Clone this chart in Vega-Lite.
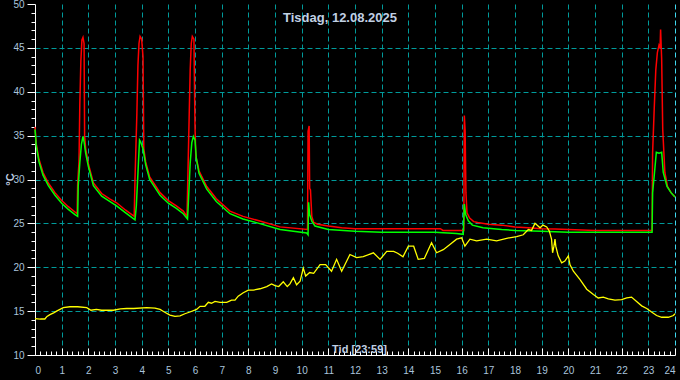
{
  "$schema": "https://vega.github.io/schema/vega-lite/v6.json",
  "width": 640,
  "height": 351,
  "autosize": {"type": "none"},
  "padding": {"left": 35, "top": 4, "right": 5, "bottom": 25},
  "background": "#000000",
  "title": {
    "text": "Tisdag, 12.08.2025",
    "frame": "group",
    "anchor": "middle",
    "dx": -15,
    "dy": 19,
    "offset": -17,
    "baseline": "alphabetic",
    "color": "#c0d0e4",
    "font": "Liberation Sans",
    "fontSize": 13,
    "fontWeight": "bold"
  },
  "config": {
    "view": {"stroke": null},
    "axis": {
      "labelFont": "Liberation Sans",
      "labelFontSize": 10,
      "labelColor": "#aac4dc",
      "titleFont": "Liberation Sans",
      "titleColor": "#c0d0e4",
      "titleFontWeight": "bold",
      "titleFontSize": 11,
      "domainColor": "#ffffff",
      "domainWidth": 1,
      "tickColor": "#ffffff",
      "tickWidth": 1,
      "gridDash": [5, 3],
      "gridWidth": 1,
      "labelOverlap": false
    }
  },
  "datasets": {
    "temps": [
      {"serie": "T1", "t": 0.0, "v": 36.0}, {"serie": "T1", "t": 0.05, "v": 34.0}, {"serie": "T1", "t": 0.15, "v": 32.3}, {"serie": "T1", "t": 0.3, "v": 30.8}, {"serie": "T1", "t": 0.5, "v": 29.6}, {"serie": "T1", "t": 0.75, "v": 28.5}, {"serie": "T1", "t": 1.0, "v": 27.6}, {"serie": "T1", "t": 1.25, "v": 26.9}, {"serie": "T1", "t": 1.5, "v": 26.3}, {"serie": "T1", "t": 1.58, "v": 26.1},
      {"serie": "T1", "t": 1.6, "v": 29.5}, {"serie": "T1", "t": 1.65, "v": 32.0}, {"serie": "T1", "t": 1.68, "v": 38.5}, {"serie": "T1", "t": 1.72, "v": 43.5}, {"serie": "T1", "t": 1.76, "v": 45.9}, {"serie": "T1", "t": 1.8, "v": 46.2}, {"serie": "T1", "t": 1.84, "v": 45.5}, {"serie": "T1", "t": 1.86, "v": 35.0}, {"serie": "T1", "t": 1.9, "v": 33.5}, {"serie": "T1", "t": 2.0, "v": 31.8},
      {"serie": "T1", "t": 2.19, "v": 29.6}, {"serie": "T1", "t": 2.5, "v": 28.4}, {"serie": "T1", "t": 2.8, "v": 27.8}, {"serie": "T1", "t": 3.06, "v": 27.35}, {"serie": "T1", "t": 3.4, "v": 26.5}, {"serie": "T1", "t": 3.72, "v": 25.8},
      {"serie": "T1", "t": 3.75, "v": 30.0}, {"serie": "T1", "t": 3.82, "v": 37.5}, {"serie": "T1", "t": 3.86, "v": 43.0}, {"serie": "T1", "t": 3.9, "v": 45.5}, {"serie": "T1", "t": 3.94, "v": 46.3}, {"serie": "T1", "t": 4.0, "v": 46.0}, {"serie": "T1", "t": 4.05, "v": 44.0}, {"serie": "T1", "t": 4.08, "v": 33.5}, {"serie": "T1", "t": 4.15, "v": 32.0}, {"serie": "T1", "t": 4.3, "v": 30.3},
      {"serie": "T1", "t": 4.69, "v": 28.5}, {"serie": "T1", "t": 5.0, "v": 27.6}, {"serie": "T1", "t": 5.3, "v": 27.0}, {"serie": "T1", "t": 5.56, "v": 26.4}, {"serie": "T1", "t": 5.7, "v": 25.8},
      {"serie": "T1", "t": 5.73, "v": 30.0}, {"serie": "T1", "t": 5.78, "v": 37.0}, {"serie": "T1", "t": 5.82, "v": 42.5}, {"serie": "T1", "t": 5.86, "v": 45.5}, {"serie": "T1", "t": 5.9, "v": 46.3}, {"serie": "T1", "t": 5.96, "v": 46.0}, {"serie": "T1", "t": 6.0, "v": 36.0}, {"serie": "T1", "t": 6.03, "v": 32.7}, {"serie": "T1", "t": 6.15, "v": 31.0},
      {"serie": "T1", "t": 6.44, "v": 29.2}, {"serie": "T1", "t": 6.8, "v": 27.8}, {"serie": "T1", "t": 7.31, "v": 26.4}, {"serie": "T1", "t": 7.8, "v": 25.8}, {"serie": "T1", "t": 8.4, "v": 25.3}, {"serie": "T1", "t": 9.19, "v": 24.6}, {"serie": "T1", "t": 10.22, "v": 24.3},
      {"serie": "T1", "t": 10.24, "v": 35.5}, {"serie": "T1", "t": 10.28, "v": 36.1}, {"serie": "T1", "t": 10.3, "v": 29.0}, {"serie": "T1", "t": 10.33, "v": 28.8}, {"serie": "T1", "t": 10.38, "v": 25.8}, {"serie": "T1", "t": 10.45, "v": 25.1}, {"serie": "T1", "t": 10.6, "v": 24.9}, {"serie": "T1", "t": 11.0, "v": 24.7}, {"serie": "T1", "t": 11.5, "v": 24.5}, {"serie": "T1", "t": 12.0, "v": 24.4},
      {"serie": "T1", "t": 15.2, "v": 24.4}, {"serie": "T1", "t": 15.3, "v": 24.2}, {"serie": "T1", "t": 16.08, "v": 24.2}, {"serie": "T1", "t": 16.1, "v": 37.3}, {"serie": "T1", "t": 16.13, "v": 35.5}, {"serie": "T1", "t": 16.16, "v": 28.5}, {"serie": "T1", "t": 16.2, "v": 26.2}, {"serie": "T1", "t": 16.3, "v": 25.6}, {"serie": "T1", "t": 16.45, "v": 25.2}, {"serie": "T1", "t": 16.6, "v": 25.1},
      {"serie": "T1", "t": 17.0, "v": 24.9}, {"serie": "T1", "t": 17.5, "v": 24.8}, {"serie": "T1", "t": 18.0, "v": 24.6}, {"serie": "T1", "t": 18.5, "v": 24.5}, {"serie": "T1", "t": 19.0, "v": 24.4}, {"serie": "T1", "t": 19.5, "v": 24.35}, {"serie": "T1", "t": 20.0, "v": 24.3}, {"serie": "T1", "t": 20.5, "v": 24.25}, {"serie": "T1", "t": 21.0, "v": 24.2}, {"serie": "T1", "t": 23.14, "v": 24.2},
      {"serie": "T1", "t": 23.16, "v": 33.0}, {"serie": "T1", "t": 23.22, "v": 38.0}, {"serie": "T1", "t": 23.28, "v": 42.5}, {"serie": "T1", "t": 23.34, "v": 44.5}, {"serie": "T1", "t": 23.4, "v": 45.3}, {"serie": "T1", "t": 23.44, "v": 45.0}, {"serie": "T1", "t": 23.46, "v": 47.1}, {"serie": "T1", "t": 23.5, "v": 43.7}, {"serie": "T1", "t": 23.54, "v": 35.7}, {"serie": "T1", "t": 23.62, "v": 30.8}, {"serie": "T1", "t": 23.72, "v": 29.2}, {"serie": "T1", "t": 23.85, "v": 28.5}, {"serie": "T1", "t": 24.0, "v": 28.0},

      {"serie": "T2", "t": 0.0, "v": 35.7}, {"serie": "T2", "t": 0.05, "v": 33.8}, {"serie": "T2", "t": 0.15, "v": 32.0}, {"serie": "T2", "t": 0.3, "v": 30.5}, {"serie": "T2", "t": 0.5, "v": 29.3}, {"serie": "T2", "t": 0.75, "v": 28.2}, {"serie": "T2", "t": 1.0, "v": 27.3}, {"serie": "T2", "t": 1.25, "v": 26.6}, {"serie": "T2", "t": 1.5, "v": 26.0}, {"serie": "T2", "t": 1.6, "v": 25.8},
      {"serie": "T2", "t": 1.62, "v": 29.2}, {"serie": "T2", "t": 1.68, "v": 31.9}, {"serie": "T2", "t": 1.74, "v": 34.0}, {"serie": "T2", "t": 1.8, "v": 34.9}, {"serie": "T2", "t": 1.84, "v": 34.3}, {"serie": "T2", "t": 1.9, "v": 33.0}, {"serie": "T2", "t": 2.0, "v": 31.5}, {"serie": "T2", "t": 2.19, "v": 29.3}, {"serie": "T2", "t": 2.5, "v": 28.1}, {"serie": "T2", "t": 2.8, "v": 27.5},
      {"serie": "T2", "t": 3.06, "v": 27.0}, {"serie": "T2", "t": 3.4, "v": 26.2}, {"serie": "T2", "t": 3.75, "v": 25.4}, {"serie": "T2", "t": 3.8, "v": 27.0}, {"serie": "T2", "t": 3.86, "v": 30.7}, {"serie": "T2", "t": 3.92, "v": 34.5}, {"serie": "T2", "t": 3.96, "v": 34.3}, {"serie": "T2", "t": 4.05, "v": 33.5}, {"serie": "T2", "t": 4.15, "v": 31.7}, {"serie": "T2", "t": 4.3, "v": 30.0},
      {"serie": "T2", "t": 4.69, "v": 28.2}, {"serie": "T2", "t": 5.0, "v": 27.3}, {"serie": "T2", "t": 5.3, "v": 26.7}, {"serie": "T2", "t": 5.56, "v": 26.1}, {"serie": "T2", "t": 5.72, "v": 25.5}, {"serie": "T2", "t": 5.75, "v": 27.3}, {"serie": "T2", "t": 5.82, "v": 31.9}, {"serie": "T2", "t": 5.88, "v": 34.2}, {"serie": "T2", "t": 5.94, "v": 34.9}, {"serie": "T2", "t": 6.0, "v": 34.5},
      {"serie": "T2", "t": 6.05, "v": 32.4}, {"serie": "T2", "t": 6.15, "v": 30.7}, {"serie": "T2", "t": 6.44, "v": 28.9}, {"serie": "T2", "t": 6.8, "v": 27.5}, {"serie": "T2", "t": 7.31, "v": 26.1}, {"serie": "T2", "t": 7.8, "v": 25.5}, {"serie": "T2", "t": 8.4, "v": 25.0}, {"serie": "T2", "t": 9.19, "v": 24.3}, {"serie": "T2", "t": 10.19, "v": 23.9}, {"serie": "T2", "t": 10.24, "v": 23.7},
      {"serie": "T2", "t": 10.26, "v": 27.4}, {"serie": "T2", "t": 10.3, "v": 26.0}, {"serie": "T2", "t": 10.38, "v": 25.25}, {"serie": "T2", "t": 10.5, "v": 24.7}, {"serie": "T2", "t": 11.0, "v": 24.3}, {"serie": "T2", "t": 12.0, "v": 24.1}, {"serie": "T2", "t": 13.0, "v": 24.0}, {"serie": "T2", "t": 15.0, "v": 24.0}, {"serie": "T2", "t": 15.8, "v": 23.85}, {"serie": "T2", "t": 16.06, "v": 23.75},
      {"serie": "T2", "t": 16.1, "v": 27.2}, {"serie": "T2", "t": 16.15, "v": 26.0}, {"serie": "T2", "t": 16.25, "v": 25.3}, {"serie": "T2", "t": 16.4, "v": 24.8}, {"serie": "T2", "t": 16.8, "v": 24.5}, {"serie": "T2", "t": 17.5, "v": 24.3}, {"serie": "T2", "t": 18.0, "v": 24.2}, {"serie": "T2", "t": 19.0, "v": 24.1}, {"serie": "T2", "t": 20.0, "v": 24.0}, {"serie": "T2", "t": 23.14, "v": 24.0},
      {"serie": "T2", "t": 23.16, "v": 28.5}, {"serie": "T2", "t": 23.22, "v": 30.4}, {"serie": "T2", "t": 23.3, "v": 33.1}, {"serie": "T2", "t": 23.4, "v": 33.0}, {"serie": "T2", "t": 23.5, "v": 33.1}, {"serie": "T2", "t": 23.56, "v": 30.8}, {"serie": "T2", "t": 23.7, "v": 29.2}, {"serie": "T2", "t": 23.85, "v": 28.5}, {"serie": "T2", "t": 24.0, "v": 28.0},

      {"serie": "Ute", "t": 0.0, "v": 14.15}, {"serie": "Ute", "t": 0.2, "v": 14.1}, {"serie": "Ute", "t": 0.37, "v": 14.1}, {"serie": "Ute", "t": 0.45, "v": 14.4}, {"serie": "Ute", "t": 0.56, "v": 14.6}, {"serie": "Ute", "t": 0.7, "v": 14.8}, {"serie": "Ute", "t": 0.81, "v": 15.0}, {"serie": "Ute", "t": 1.06, "v": 15.4}, {"serie": "Ute", "t": 1.31, "v": 15.5}, {"serie": "Ute", "t": 1.6, "v": 15.5},
      {"serie": "Ute", "t": 1.94, "v": 15.4}, {"serie": "Ute", "t": 2.1, "v": 15.1}, {"serie": "Ute", "t": 2.3, "v": 15.2}, {"serie": "Ute", "t": 2.5, "v": 15.1}, {"serie": "Ute", "t": 2.94, "v": 15.1}, {"serie": "Ute", "t": 3.2, "v": 15.25}, {"serie": "Ute", "t": 3.44, "v": 15.3}, {"serie": "Ute", "t": 3.7, "v": 15.3}, {"serie": "Ute", "t": 4.19, "v": 15.4}, {"serie": "Ute", "t": 4.5, "v": 15.35},
      {"serie": "Ute", "t": 4.69, "v": 15.2}, {"serie": "Ute", "t": 4.85, "v": 14.9}, {"serie": "Ute", "t": 5.06, "v": 14.55}, {"serie": "Ute", "t": 5.25, "v": 14.4}, {"serie": "Ute", "t": 5.44, "v": 14.45}, {"serie": "Ute", "t": 5.62, "v": 14.7}, {"serie": "Ute", "t": 5.81, "v": 14.9}, {"serie": "Ute", "t": 6.06, "v": 15.2}, {"serie": "Ute", "t": 6.19, "v": 15.55}, {"serie": "Ute", "t": 6.37, "v": 15.55},
      {"serie": "Ute", "t": 6.5, "v": 16.0}, {"serie": "Ute", "t": 6.62, "v": 15.9}, {"serie": "Ute", "t": 6.75, "v": 16.1}, {"serie": "Ute", "t": 6.94, "v": 16.0}, {"serie": "Ute", "t": 7.19, "v": 16.0}, {"serie": "Ute", "t": 7.37, "v": 16.25}, {"serie": "Ute", "t": 7.5, "v": 16.25}, {"serie": "Ute", "t": 7.62, "v": 16.7}, {"serie": "Ute", "t": 7.81, "v": 17.1}, {"serie": "Ute", "t": 8.0, "v": 17.4},
      {"serie": "Ute", "t": 8.19, "v": 17.4}, {"serie": "Ute", "t": 8.44, "v": 17.55}, {"serie": "Ute", "t": 8.69, "v": 17.8}, {"serie": "Ute", "t": 8.87, "v": 18.1}, {"serie": "Ute", "t": 9.0, "v": 17.9}, {"serie": "Ute", "t": 9.14, "v": 17.8}, {"serie": "Ute", "t": 9.31, "v": 18.35}, {"serie": "Ute", "t": 9.46, "v": 17.8}, {"serie": "Ute", "t": 9.56, "v": 18.1}, {"serie": "Ute", "t": 9.69, "v": 18.8},
      {"serie": "Ute", "t": 9.81, "v": 18.0}, {"serie": "Ute", "t": 9.94, "v": 18.4}, {"serie": "Ute", "t": 10.06, "v": 19.9}, {"serie": "Ute", "t": 10.15, "v": 19.0}, {"serie": "Ute", "t": 10.3, "v": 19.4}, {"serie": "Ute", "t": 10.45, "v": 19.3}, {"serie": "Ute", "t": 10.69, "v": 20.3}, {"serie": "Ute", "t": 10.9, "v": 20.3}, {"serie": "Ute", "t": 11.12, "v": 19.55}, {"serie": "Ute", "t": 11.31, "v": 20.9},
      {"serie": "Ute", "t": 11.5, "v": 19.55}, {"serie": "Ute", "t": 11.81, "v": 21.45}, {"serie": "Ute", "t": 12.06, "v": 21.1}, {"serie": "Ute", "t": 12.31, "v": 21.2}, {"serie": "Ute", "t": 12.69, "v": 21.65}, {"serie": "Ute", "t": 12.94, "v": 20.9}, {"serie": "Ute", "t": 13.19, "v": 21.8}, {"serie": "Ute", "t": 13.45, "v": 21.8}, {"serie": "Ute", "t": 13.6, "v": 21.6}, {"serie": "Ute", "t": 13.8, "v": 21.2},
      {"serie": "Ute", "t": 14.0, "v": 22.4}, {"serie": "Ute", "t": 14.2, "v": 22.4}, {"serie": "Ute", "t": 14.37, "v": 20.9}, {"serie": "Ute", "t": 14.6, "v": 21.0}, {"serie": "Ute", "t": 14.87, "v": 22.8}, {"serie": "Ute", "t": 15.06, "v": 21.65}, {"serie": "Ute", "t": 15.31, "v": 22.0}, {"serie": "Ute", "t": 15.56, "v": 22.6}, {"serie": "Ute", "t": 15.81, "v": 23.2}, {"serie": "Ute", "t": 16.0, "v": 23.35},
      {"serie": "Ute", "t": 16.12, "v": 22.4}, {"serie": "Ute", "t": 16.31, "v": 23.2}, {"serie": "Ute", "t": 16.56, "v": 23.0}, {"serie": "Ute", "t": 16.94, "v": 23.2}, {"serie": "Ute", "t": 17.31, "v": 23.0}, {"serie": "Ute", "t": 17.69, "v": 23.3}, {"serie": "Ute", "t": 18.06, "v": 23.5}, {"serie": "Ute", "t": 18.31, "v": 23.7}, {"serie": "Ute", "t": 18.5, "v": 24.3}, {"serie": "Ute", "t": 18.62, "v": 24.2},
      {"serie": "Ute", "t": 18.75, "v": 25.0}, {"serie": "Ute", "t": 18.94, "v": 24.5}, {"serie": "Ute", "t": 19.05, "v": 24.8}, {"serie": "Ute", "t": 19.19, "v": 24.6}, {"serie": "Ute", "t": 19.29, "v": 24.1}, {"serie": "Ute", "t": 19.37, "v": 23.2}, {"serie": "Ute", "t": 19.41, "v": 21.65}, {"serie": "Ute", "t": 19.46, "v": 22.4}, {"serie": "Ute", "t": 19.5, "v": 23.2}, {"serie": "Ute", "t": 19.53, "v": 22.4},
      {"serie": "Ute", "t": 19.62, "v": 21.3}, {"serie": "Ute", "t": 19.75, "v": 20.5}, {"serie": "Ute", "t": 19.87, "v": 20.7}, {"serie": "Ute", "t": 20.0, "v": 21.3}, {"serie": "Ute", "t": 20.06, "v": 20.3}, {"serie": "Ute", "t": 20.19, "v": 19.55}, {"serie": "Ute", "t": 20.44, "v": 18.6}, {"serie": "Ute", "t": 20.69, "v": 17.5}, {"serie": "Ute", "t": 20.94, "v": 16.9}, {"serie": "Ute", "t": 21.12, "v": 16.5},
      {"serie": "Ute", "t": 21.31, "v": 16.6}, {"serie": "Ute", "t": 21.5, "v": 16.4}, {"serie": "Ute", "t": 21.75, "v": 16.25}, {"serie": "Ute", "t": 22.0, "v": 16.3}, {"serie": "Ute", "t": 22.19, "v": 16.5}, {"serie": "Ute", "t": 22.37, "v": 16.6}, {"serie": "Ute", "t": 22.56, "v": 16.1}, {"serie": "Ute", "t": 22.75, "v": 15.6}, {"serie": "Ute", "t": 22.94, "v": 15.3}, {"serie": "Ute", "t": 23.12, "v": 14.9},
      {"serie": "Ute", "t": 23.31, "v": 14.5}, {"serie": "Ute", "t": 23.5, "v": 14.3}, {"serie": "Ute", "t": 23.75, "v": 14.3}, {"serie": "Ute", "t": 23.94, "v": 14.5}, {"serie": "Ute", "t": 24.0, "v": 14.7}
    ]
  },
  "data": {"name": "temps"},
  "encoding": {
    "x": {
      "field": "t",
      "type": "quantitative",
      "scale": {"domain": [0, 24], "nice": false, "zero": false},
      "axis": {
        "title": "Tid [23:59]",
        "titleX": 324,
        "titleY": -3,
        "titleAlign": "center",
        "titleBaseline": "alphabetic",
        "values": [0, 0.2, 0.4, 0.6, 0.8, 1, 1.2, 1.4, 1.6, 1.8, 2, 2.2, 2.4, 2.6, 2.8, 3, 3.2, 3.4, 3.6, 3.8, 4, 4.2, 4.4, 4.6, 4.8, 5, 5.2, 5.4, 5.6, 5.8, 6, 6.2, 6.4, 6.6, 6.8, 7, 7.2, 7.4, 7.6, 7.8, 8, 8.2, 8.4, 8.6, 8.8, 9, 9.2, 9.4, 9.6, 9.8, 10, 10.2, 10.4, 10.6, 10.8, 11, 11.2, 11.4, 11.6, 11.8, 12, 12.2, 12.4, 12.6, 12.8, 13, 13.2, 13.4, 13.6, 13.8, 14, 14.2, 14.4, 14.6, 14.8, 15, 15.2, 15.4, 15.6, 15.8, 16, 16.2, 16.4, 16.6, 16.8, 17, 17.2, 17.4, 17.6, 17.8, 18, 18.2, 18.4, 18.6, 18.8, 19, 19.2, 19.4, 19.6, 19.8, 20, 20.2, 20.4, 20.6, 20.8, 21, 21.2, 21.4, 21.6, 21.8, 22, 22.2, 22.4, 22.6, 22.8, 23, 23.2, 23.4, 23.6, 23.8, 24],
        "labelExpr": "datum.value % 1 === 0 ? format(datum.value, 'd') : ''",
        "tickSize": {"condition": {"test": "datum.value % 1 === 0", "value": -7}, "value": -4},
        "labelPadding": 17,
        "grid": true,
        "gridOpacity": {"condition": {"test": "datum.value % 1 === 0 && datum.value > 0", "value": 1}, "value": 0},
        "gridColor": {"condition": {"test": "datum.value === 24", "value": "#3fd8f0"}, "value": "#009a9a"}
      }
    },
    "y": {
      "field": "v",
      "type": "quantitative",
      "scale": {"domain": [10, 50], "nice": false, "zero": false},
      "axis": {
        "title": "°C",
        "titleX": -25,
        "titleY": 175,
        "titleAngle": -90,
        "titleAlign": "center",
        "titleBaseline": "middle",
        "values": [10, 11, 12, 13, 14, 15, 16, 17, 18, 19, 20, 21, 22, 23, 24, 25, 26, 27, 28, 29, 30, 31, 32, 33, 34, 35, 36, 37, 38, 39, 40, 41, 42, 43, 44, 45, 46, 47, 48, 49, 50],
        "labelExpr": "datum.value % 5 === 0 ? datum.label : ''",
        "tickSize": {"condition": {"test": "datum.value % 5 === 0", "value": 8}, "value": 4},
        "labelPadding": 3,
        "grid": true,
        "gridOpacity": {"condition": {"test": "datum.value % 5 === 0 && datum.value > 10 && datum.value < 50", "value": 1}, "value": 0},
        "gridColor": "#009a9a"
      }
    }
  },
  "layer": [
    {"transform": [{"filter": "datum.serie === 'T1'"}], "mark": {"type": "line", "color": "#ff0000", "strokeWidth": 1.5}},
    {"transform": [{"filter": "datum.serie === 'T2'"}], "mark": {"type": "line", "color": "#00ff00", "strokeWidth": 1.5}},
    {"transform": [{"filter": "datum.serie === 'Ute'"}], "mark": {"type": "line", "color": "#ffff00", "strokeWidth": 1.3}}
  ]
}
